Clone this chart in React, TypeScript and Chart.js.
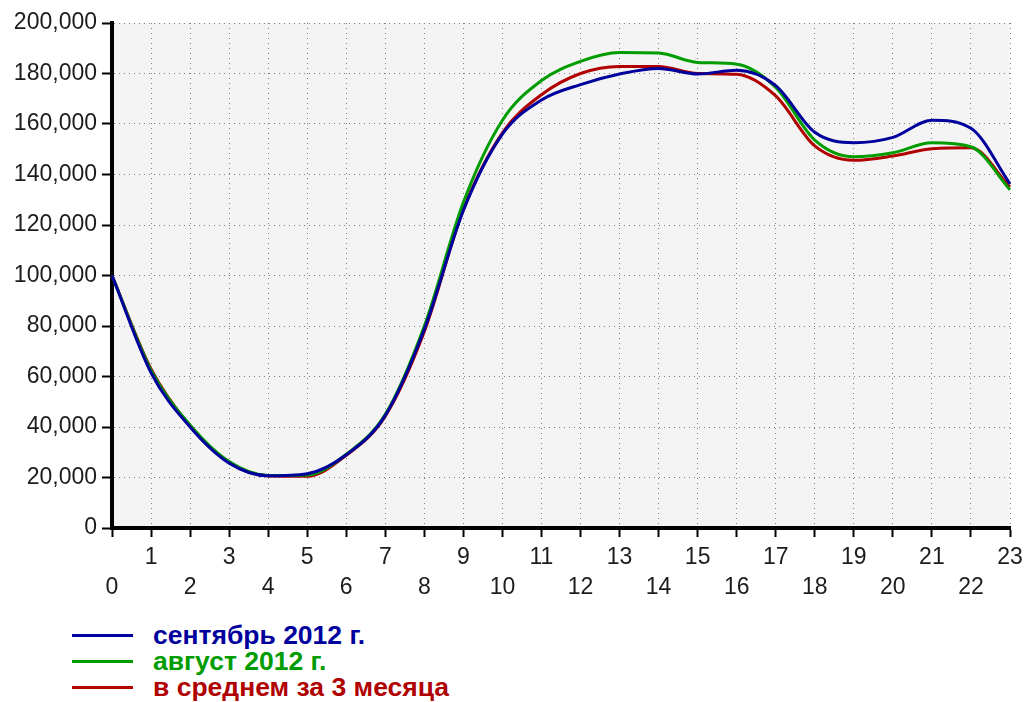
import React, { useEffect, useRef } from 'react';
import { Chart, registerables } from 'chart.js';

Chart.register(...registerables);

const hours = ['0', '1', '2', '3', '4', '5', '6', '7', '8', '9', '10', '11', '12', '13', '14', '15', '16', '17', '18', '19', '20', '21', '22', '23'];

const september2012 = [100000, 61500, 40000, 25700, 20700, 21500, 29000, 44600, 78700, 125800, 156000, 169500, 175600, 179800, 182000, 179800, 181300, 175200, 156700, 152600, 154700, 161500, 158300, 136300];
const august2012 = [100000, 62500, 40800, 26300, 20800, 21000, 29200, 45000, 80000, 129000, 161500, 177200, 184800, 188300, 188100, 184400, 183700, 174500, 153600, 147000, 148600, 152600, 151000, 134000];
const average3Months = [100000, 63000, 40400, 26000, 20600, 20500, 28800, 44300, 77800, 126200, 156500, 171600, 180000, 182800, 182800, 180000, 179700, 171100, 151300, 145600, 147300, 150200, 150600, 135000];

const seriesNames = ['сентябрь 2012 г.', 'август 2012 г.', 'в среднем за 3 месяца'];
const seriesColors = ['#00009c', '#009c00', '#b00000'];

const yTicks = [0, 20000, 40000, 60000, 80000, 100000, 120000, 140000, 160000, 180000, 200000];

const FONT = "'Liberation Sans', Arial, sans-serif";

const plotBg = {
  id: 'plotBg',
  beforeDraw(chart: any) {
    const { ctx, chartArea } = chart;
    ctx.save();
    ctx.fillStyle = '#f4f4f4';
    ctx.fillRect(chartArea.left, chartArea.top, chartArea.right - chartArea.left, chartArea.bottom - chartArea.top);
    ctx.restore();
  },
};

export default function App() {
  const ref = useRef<HTMLCanvasElement | null>(null);

  useEffect(() => {
    if (!ref.current) return;
    const allSeries = [september2012, august2012, average3Months];
    const chart = new Chart(ref.current, {
      type: 'line',
      data: {
        labels: hours,
        datasets: allSeries.map((d, i) => ({
          label: seriesNames[i],
          data: d,
          borderColor: seriesColors[i],
          backgroundColor: seriesColors[i],
          borderWidth: 3,
          pointRadius: 0,
          cubicInterpolationMode: 'monotone' as const,
          fill: false,
        })),
      },
      options: {
        animation: false,
        responsive: false,
        maintainAspectRatio: false,
        layout: { padding: { left: 0, right: 19, top: 23, bottom: 0 } },
        plugins: {
          legend: { display: false },
          tooltip: { enabled: false },
        },
        scales: {
          x: {
            type: 'category',
            offset: false,
            afterFit(scale: any) {
              scale.height = 72;
            },
            grid: {
              color: '#808080',
              lineWidth: 1,
              tickLength: 9,
              tickColor: '#000',
              tickWidth: 2,
              tickBorderDash: [],
            } as any,
            border: { color: '#000', width: 4, dash: [1, 4] },
            ticks: {
              autoSkip: false,
              maxRotation: 0,
              minRotation: 0,
              padding: 6,
              color: '#1c1c1c',
              font: { family: FONT, size: 23, lineHeight: 1.3 },
              callback: (_v: any, idx: number) => (idx % 2 === 1 ? [hours[idx], ''] : ['', hours[idx]]),
            },
          },
          y: {
            min: 0,
            max: 200000,
            afterFit(scale: any) {
              scale.width = 112;
            },
            afterBuildTicks(scale: any) {
              scale.ticks = yTicks.map((v) => ({ value: v }));
            },
            grid: {
              color: '#808080',
              lineWidth: 1,
              tickLength: 10,
              tickColor: '#000',
              tickWidth: 2,
              tickBorderDash: [],
            } as any,
            border: { color: '#000', width: 4, dash: [1, 4] },
            ticks: {
              padding: 5,
              color: '#1c1c1c',
              font: { family: FONT, size: 23 },
              callback: (v: any) => Number(v).toLocaleString('en-US'),
            },
          },
        },
      },
      plugins: [plotBg],
    });
    return () => chart.destroy();
  }, []);

  return (
    <div style={{ position: 'absolute', left: 0, top: 0, width: 1029, height: 702, background: '#fff' }}>
      <canvas ref={ref} width={1029} height={600} style={{ position: 'absolute', left: 0, top: 0, width: 1029, height: 600 }} />
      <div style={{ position: 'absolute', left: 72, top: 622, fontFamily: FONT, fontWeight: 'bold', fontSize: 26.5 }}>
        {seriesNames.map((name, i) => (
          <div key={name} style={{ display: 'flex', alignItems: 'center', height: 26, whiteSpace: 'pre' }}>
            <span style={{ display: 'inline-block', width: 61, height: 3, background: seriesColors[i], marginRight: 20 }} />
            <span style={{ color: seriesColors[i], lineHeight: '26px' }}>{name}</span>
          </div>
        ))}
      </div>
    </div>
  );
}
